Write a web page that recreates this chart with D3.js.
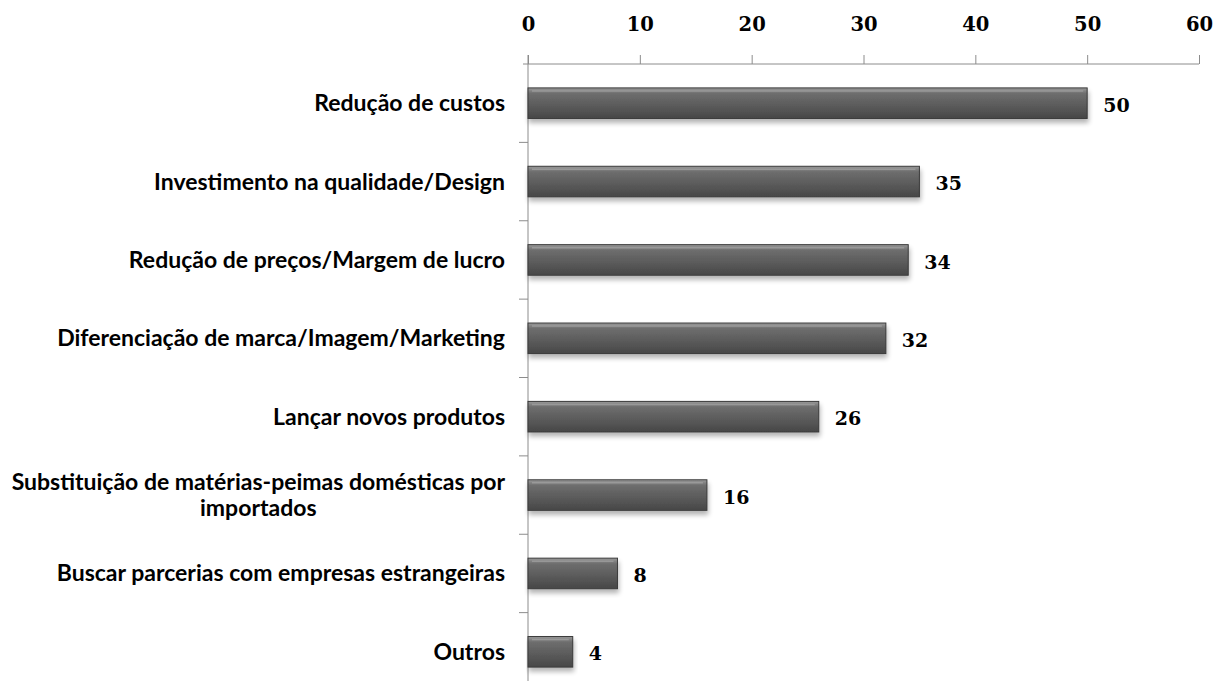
<!DOCTYPE html>
<html><head><meta charset="utf-8">
<script src="https://cdn.jsdelivr.net/npm/d3@7"></script>
<style>body{margin:0;background:#fff}svg{display:block}</style>
</head><body>
<script>
const categories = [
  ["Redução de custos"],
  ["Investimento na qualidade/Design"],
  ["Redução de preços/Margem de lucro"],
  ["Diferenciação de marca/Imagem/Marketing"],
  ["Lançar novos produtos"],
  ["Substituição de matérias-peimas domésticas por", "importados"],
  ["Buscar parcerias com empresas estrangeiras"],
  ["Outros"]
];
const values = [50, 35, 34, 32, 26, 16, 8, 4];
const tickValues = [0, 10, 20, 30, 40, 50, 60];

const W = 1216, H = 681;
const svg = d3.select("body").append("svg").attr("width", W).attr("height", H);
const defs = svg.append("defs");
const g1 = defs.append("linearGradient").attr("id","barg").attr("x1",0).attr("y1",0).attr("x2",0).attr("y2",1);
g1.append("stop").attr("offset","0").attr("stop-color","#9a9a9a");
g1.append("stop").attr("offset","0.18").attr("stop-color","#6e6e6e");
g1.append("stop").attr("offset","0.6").attr("stop-color","#5a5a5a");
g1.append("stop").attr("offset","1").attr("stop-color","#474747");
const f = defs.append("filter").attr("id","sh").attr("x","-5%").attr("y","-30%").attr("width","115%").attr("height","170%");
f.append("feGaussianBlur").attr("in","SourceAlpha").attr("stdDeviation",2.5).attr("result","b");
f.append("feOffset").attr("in","b").attr("dx",1).attr("dy",4).attr("result","o");
f.append("feComponentTransfer").attr("in","o").attr("result","oa").append("feFuncA").attr("type","linear").attr("slope",0.3);
const fm = f.append("feMerge"); fm.append("feMergeNode").attr("in","oa"); fm.append("feMergeNode").attr("in","SourceGraphic");

const x = d3.scaleLinear().domain([0,60]).range([528, 1199]);
const y = d3.scaleBand().domain(d3.range(categories.length)).range([64, 691]).paddingInner(0.61).paddingOuter(0.305);

const numFont = "'DejaVu Serif', 'Liberation Serif', serif";

// top axis
const ax = svg.append("g").attr("transform","translate(0,64)")
  .call(d3.axisTop(x).tickValues(tickValues).tickSize(9).tickSizeOuter(0).tickPadding(24));
ax.select(".domain").attr("stroke","#8c8c8c").attr("d", `M${x(0)-5},0H${x(60)}`);
ax.selectAll(".tick line").attr("stroke","#8c8c8c");
ax.selectAll(".tick text").attr("font-family",numFont).attr("font-weight","bold").attr("font-size","19.5px").attr("fill","#000");

// left axis line with category ticks
const yAxisG = svg.append("g");
yAxisG.append("line").attr("x1",x(0)).attr("x2",x(0)).attr("y1",55).attr("y2",H).attr("stroke","#8c8c8c");
const step = y.step();
yAxisG.selectAll("line.ct").data(d3.range(1, categories.length)).join("line")
  .attr("class","ct").attr("x1",x(0)-9).attr("x2",x(0))
  .attr("y1", i => 64 + i*step).attr("y2", i => 64 + i*step).attr("stroke","#8c8c8c");

// bars
const bars = svg.append("g");
bars.selectAll("rect").data(values).join("rect")
  .attr("x", x(0)).attr("y",(d,i)=>y(i)).attr("width", d=>x(d)-x(0)).attr("height", y.bandwidth())
  .attr("fill","url(#barg)").attr("stroke","#3a3a3a").attr("stroke-width",1).attr("filter","url(#sh)");
bars.selectAll("line.hl").data(values).join("line").attr("class","hl")
  .attr("x1", x(0)+4).attr("x2", d=>x(d)-4).attr("y1",(d,i)=>y(i)+3).attr("y2",(d,i)=>y(i)+3)
  .attr("stroke","#a8a8a8").attr("stroke-width",1.5).attr("opacity",0.6);

// value labels
svg.append("g").selectAll("text").data(values).join("text")
  .attr("x", d=>x(d)+16).attr("y",(d,i)=>y(i)+y.bandwidth()/2+2).attr("dy","0.35em")
  .attr("font-family",numFont).attr("font-weight","bold").attr("font-size","19px")
  .text(d=>d);

// category labels
const lab = svg.append("g").attr("font-family","Lato, 'Open Sans', sans-serif").attr("font-weight","bold").attr("font-size","23px").attr("fill","#000");
categories.forEach((lines,i) => {
  const cy = y(i)+y.bandwidth()/2;
  const lh = 26;
  const rightX = 505;
  if (lines.length === 1) {
    lab.append("text").attr("x",rightX).attr("y",cy).attr("dy","0.35em").attr("text-anchor","end").text(lines[0]);
  } else {
    const t0 = lab.append("text").attr("x",rightX).attr("y",cy - lh/2).attr("dy","0.35em").attr("text-anchor","end").text(lines[0]);
    const w = t0.node().getComputedTextLength();
    const center = rightX - w/2;
    lines.slice(1).forEach((l,k)=>{
      lab.append("text").attr("x",center).attr("y",cy - lh/2 + (k+1)*lh).attr("dy","0.35em").attr("text-anchor","middle").text(l);
    });
  }
});
</script>
</body></html>
